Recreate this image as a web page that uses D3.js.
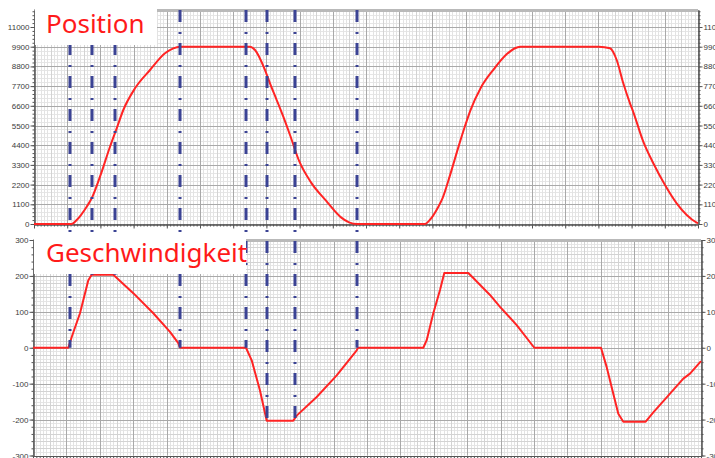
<!DOCTYPE html>
<html>
<head>
<meta charset="utf-8">
<script src="https://cdn.jsdelivr.net/npm/d3@7"></script>
<style>
  html, body { margin: 0; padding: 0; background: #fff; overflow: hidden; }
  svg { display: block; }
</style>
</head>
<body>
<svg id="chart" width="715" height="458"></svg>
<script>
// ---- Position profile (time in grid divisions, position in increments) ----
const posTime = [0, 1.084, 1.136, 1.286, 1.587, 1.738, 1.988, 2.289, 2.491, 2.690, 3.042, 3.494, 3.946, 4.196, 4.398,
  6.506, 6.657, 6.958, 7.108, 7.310, 7.509, 7.711, 7.982, 8.343, 8.795, 9.247, 9.488, 9.729,
  11.777, 11.910, 12.175, 12.307, 12.527, 12.792, 12.970, 13.145, 13.455, 13.852, 14.250, 14.470, 14.648,
  17.018, 17.349, 17.551, 17.750, 17.952, 18.051, 18.352, 18.654, 19.006, 19.358, 19.660, 19.961, 20.0];
const posValue = [0, 0, 0, 220, 966, 1435, 2641, 4316, 5344, 6366, 7577, 8599, 9530, 9810, 9900,
  9900, 9716, 8599, 7857, 6924, 5992, 4970, 3534, 2323, 1301, 370, 90, 0,
  0, 200, 950, 1450, 2700, 4350, 5400, 6350, 7600, 8650, 9500, 9800, 9900,
  9900, 9810, 9158, 7857, 6738, 6250, 4597, 3390, 2178, 1154, 503, 75, 40];

// ---- Velocity profile ----
const velTime = [0, 1.057, 1.159, 1.407, 1.656, 1.757, 2.404, 3.003, 3.602, 4.102, 4.350, 4.401,
  6.377, 6.548, 6.796, 6.997, 7.793, 7.895, 8.494, 9.093, 9.692, 9.730,
  11.686, 11.787, 11.985, 12.186, 12.314, 13.033, 13.183, 13.683, 13.982, 14.482, 15.009,
  17.006, 17.177, 17.374, 17.524, 17.674, 18.344, 18.572, 18.973, 19.470, 19.671, 20.0];
const velValue = [0, 0, 30, 96, 188, 203, 203, 152, 96, 44, 13, 0,
  0, -35, -119, -203, -203, -189, -137, -77, -7, 0,
  0, 21, 96, 161, 208, 208, 194, 147, 114, 63, 0,
  0, -54, -128, -184, -206, -206, -180, -138, -86, -72, -37];

// ---- Axis ticks ----
const posTicks = [0, 1100, 2200, 3300, 4400, 5500, 6600, 7700, 8800, 9900, 11000];
const velTicks = [-300, -200, -100, 0, 100, 200, 300];

// ---- Event markers: time and the velocity level each marker runs down to ----
const markerTime = [1.084, 1.747, 2.440, 4.398, 6.386, 7.018, 7.861, 9.729];
const markerVel = [0, 203, 203, 0, 0, -203, -203, 0];

const panelTitles = ["Position", "Geschwindigkeit"];

const svg = d3.select("#chart");

// Scales
const xTop = d3.scaleLinear().domain([0, 20]).range([34, 698]);
const yTop = d3.scaleLinear().domain([0, 11950]).range([224, 10]);
const xBot = d3.scaleLinear().domain([0, 20]).range([33, 701]);
const yBot = d3.scaleLinear().domain([-300, 300]).range([455.5, 240]);

const tFine = d3.range(0, 201).map(i => i / 10);
const tMid = d3.range(0, 41).map(i => i / 2);
const tMajor = d3.range(0, 21);

function drawPanel(x, y, yFine, yMid, yMajor, yTicksMinor, leftLabels, rightLabels) {
  const g = svg.append("g");
  const [x0, x1] = x.range();
  const [yb, yt] = y.range();

  g.append("rect").attr("x", x0).attr("y", yt).attr("width", x1 - x0).attr("height", yb - yt)
    .attr("fill", "#fff");

  const vline = (vals, color, w) => g.append("g").selectAll("line").data(vals).join("line")
    .attr("x1", d => Math.round(x(d)) + 0.5).attr("x2", d => Math.round(x(d)) + 0.5)
    .attr("y1", yt).attr("y2", yb).attr("stroke", color).attr("stroke-width", w);
  const hline = (vals, color, w) => g.append("g").selectAll("line").data(vals).join("line")
    .attr("y1", d => Math.round(y(d)) + 0.5).attr("y2", d => Math.round(y(d)) + 0.5)
    .attr("x1", x0).attr("x2", x1).attr("stroke", color).attr("stroke-width", w);

  hline(yFine, "#e6e6e6", 1);
  vline(tFine, "#e3e3e3", 1);
  hline(yMid, "#d3d3d3", 1);
  vline(tMid, "#d3d3d3", 1);
  hline(yMajor, "#a9a9a9", 1);
  vline(tMajor, "#a9a9a9", 1);

  // top border
  g.append("line").attr("x1", x0).attr("x2", x1).attr("y1", yt + 0.5).attr("y2", yt + 0.5)
    .attr("stroke", "#b9b9b9").attr("stroke-width", 3);

  const styleAxis = sel => {
    sel.select(".domain").attr("stroke", "#555");
    sel.selectAll(".tick line").attr("stroke", "#555");
    sel.selectAll("text").attr("fill", "#3c3c3c")
      .style("font-family", "'Liberation Sans', Arial, sans-serif").style("font-size", "8px");
  };

  // left axis
  g.append("g").attr("transform", `translate(${x0 + 0.5},0)`)
    .call(d3.axisLeft(y).tickValues(yTicksMinor).tickSize(2).tickFormat("").tickSizeOuter(0))
    .call(styleAxis);
  g.append("g").attr("transform", `translate(${x0 + 0.5},0)`)
    .call(d3.axisLeft(y).tickValues(yMajor).tickSize(4).tickPadding(1)
      .tickFormat(leftLabels).tickSizeOuter(0))
    .call(styleAxis);

  // right axis
  g.append("g").attr("transform", `translate(${x1 + 0.5},0)`)
    .call(d3.axisRight(y).tickValues(yTicksMinor).tickSize(2).tickFormat("").tickSizeOuter(0))
    .call(styleAxis);
  g.append("g").attr("transform", `translate(${x1 + 0.5},0)`)
    .call(d3.axisRight(y).tickValues(yMajor).tickSize(4).tickPadding(1)
      .tickFormat(rightLabels).tickSizeOuter(0))
    .call(styleAxis);

  // bottom (time) axis
  g.append("g").attr("transform", `translate(0,${yb + 0.5})`)
    .call(d3.axisBottom(x).tickValues(tFine).tickSize(2).tickFormat("").tickSizeOuter(0))
    .call(styleAxis);
  g.append("g").attr("transform", `translate(0,${yb + 0.5})`)
    .call(d3.axisBottom(x).tickValues(tMajor).tickSize(4).tickFormat("").tickSizeOuter(0))
    .call(styleAxis);
  return g;
}

// Position panel
drawPanel(xTop, yTop,
  d3.range(0, 11950, 220), [], posTicks, d3.range(0, 11950, 220),
  d => String(d), d => String(d));

// Velocity panel
drawPanel(xBot, yBot,
  d3.range(-300, 301, 10), d3.range(-300, 301, 20), velTicks, d3.range(-300, 301, 20),
  d => String(d), d => String(d));

// Curves
const posLine = d3.line().x((d, i) => xTop(posTime[i])).y(d => yTop(d)).curve(d3.curveMonotoneX);
svg.append("path").attr("d", posLine(posValue))
  .attr("fill", "none").attr("stroke", "#ff2424").attr("stroke-width", 2).attr("stroke-linejoin", "round");

const velLine = d3.line().x((d, i) => xBot(velTime[i])).y(d => yBot(d));
svg.append("path").attr("d", velLine(velValue))
  .attr("fill", "none").attr("stroke", "#ff2424").attr("stroke-width", 2).attr("stroke-linejoin", "round");

// Event markers (dash-dot)
svg.append("g").selectAll("line").data(markerTime).join("line")
  .attr("x1", d => xTop(d)).attr("x2", d => xTop(d))
  .attr("y1", yTop.range()[1])
  .attr("y2", (d, i) => yBot(markerVel[i]))
  .attr("stroke", "#3b4394").attr("stroke-width", 3)
  .attr("stroke-dasharray", "12,10,2,9");

// Panel titles
const titleBoxes = [
  { x: 35, y: 6, w: 122, h: 39, tx: 46, ty: 33 },
  { x: 34, y: 238, w: 212, h: 36, tx: 46, ty: 262 }
];
panelTitles.forEach((t, i) => {
  const b = titleBoxes[i];
  svg.append("rect").attr("x", b.x).attr("y", b.y).attr("width", b.w).attr("height", b.h).attr("fill", "#fff");
  svg.append("text").attr("x", b.tx).attr("y", b.ty).text(t)
    .attr("fill", "#ff1a1a").style("font-family", "'Noto Sans', 'Open Sans', sans-serif").style("font-size", "26px");
});
</script>
</body>
</html>
